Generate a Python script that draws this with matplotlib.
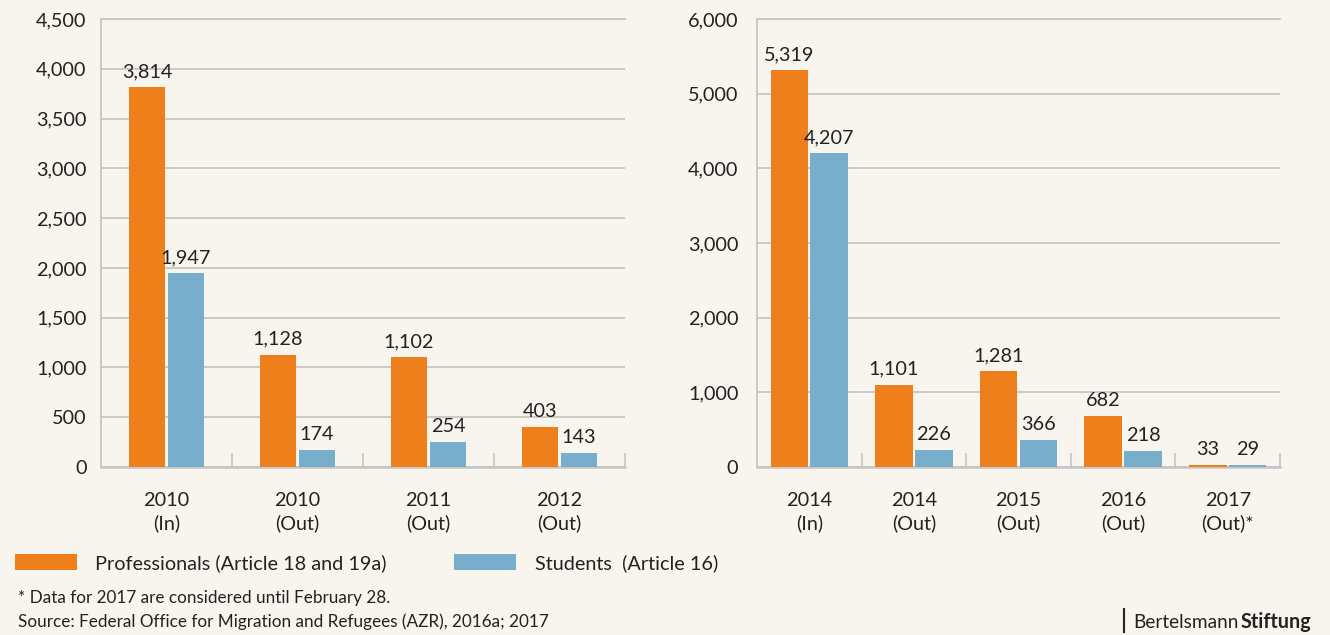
import matplotlib.pyplot as plt
from matplotlib.patches import Patch
from matplotlib.lines import Line2D
import numpy as np

plt.rcParams['font.family'] = ['Lato', 'DejaVu Sans']

# data
left_groups = ['2010\n(In)', '2010\n(Out)', '2011\n(Out)', '2012\n(Out)']
left_prof = [3814, 1128, 1102, 403]
left_stud = [1947, 174, 254, 143]

right_groups = ['2014\n(In)', '2014\n(Out)', '2015\n(Out)', '2016\n(Out)', '2017\n(Out)*']
right_prof = [5319, 1101, 1281, 682, 33]
right_stud = [4207, 226, 366, 218, 29]

legend_labels = ['Professionals (Article 18 and 19a)', 'Students  (Article 16)']
footnote = '* Data for 2017 are considered until February 28.'
source = 'Source: Federal Office for Migration and Refugees (AZR), 2016a; 2017'

bg = '#F8F5EE'
orange = '#EE7F1B'
blue = '#78AECB'
grid_c = '#C6C6C6'
txt = '#222222'
fs = 14.3

fig = plt.figure(figsize=(13.3, 6.35), dpi=100, facecolor=bg)


def draw_panel(ax, groups, prof, stud, ymax, ystep, width, offset, ypad):
    ax.set_facecolor(bg)
    x = np.arange(len(groups))
    b1 = ax.bar(x - offset, prof, width, color=orange, zorder=3)
    b2 = ax.bar(x + offset, stud, width, color=blue, zorder=3)
    for bars in (b1, b2):
        ax.bar_label(bars, labels=[f'{v:,}' for v in bars.datavalues],
                     padding=5, fontsize=fs, color=txt)
    ax.set_xlim(-0.5, len(groups) - 0.5)
    ax.set_ylim(0, ymax)
    ax.set_yticks(np.arange(0, ymax + 1, ystep))
    ax.set_yticklabels([f'{int(v):,}' for v in np.arange(0, ymax + 1, ystep)])
    ax.set_xticks(x)
    ax.set_xticklabels(groups, linespacing=1.36)
    ax.set_xticks(np.arange(0.5, len(groups), 1.0), minor=True)
    ax.tick_params(axis='x', which='major', length=0, pad=18, labelsize=fs, labelcolor=txt)
    ax.tick_params(axis='x', which='minor', direction='in', length=10, width=1.2, color=grid_c)
    ax.tick_params(axis='y', length=0, pad=ypad, labelsize=fs, labelcolor=txt)
    ax.yaxis.grid(True, color=grid_c, lw=1.3, zorder=0)
    ax.set_axisbelow(True)
    ax.spines['right'].set_visible(False)
    for s in ('left', 'top', 'bottom'):
        ax.spines[s].set_color(grid_c)
        ax.spines[s].set_linewidth(1.3)
    ax.spines['bottom'].set_linewidth(1.8)


ax1 = fig.add_axes([101 / 1330, 1 - 467 / 635, 524 / 1330, 448 / 635])
draw_panel(ax1, left_groups, left_prof, left_stud, 4500, 500, 0.275, 0.149, 10.5)

ax2 = fig.add_axes([757 / 1330, 1 - 467 / 635, 523 / 1330, 448 / 635])
draw_panel(ax2, right_groups, right_prof, right_stud, 6000, 1000, 0.36, 0.19, 13.5)

handles = [Patch(facecolor=orange), Patch(facecolor=blue)]
fig.legend(handles, legend_labels, loc='center left', bbox_to_anchor=(15 / 1330, 1 - 563 / 635),
           ncol=2, frameon=False, fontsize=fs, handlelength=3.1, handleheight=0.85,
           handletextpad=0.95, columnspacing=3.4, borderpad=0, borderaxespad=0,
           labelcolor=txt)

fig.text(18 / 1330, 1 - 598 / 635, footnote, fontsize=12.3, color=txt, va='center')
fig.text(18 / 1330, 1 - 622 / 635, source, fontsize=12.3, color=txt, va='center')

fig.add_artist(Line2D([1124 / 1330, 1124 / 1330], [1 - 632 / 635, 1 - 609 / 635],
                      color=txt, lw=1.5))
fig.text(1239 / 1330, 1 - 622 / 635, 'Bertelsmann', fontsize=13.7, color=txt, va='center',
         ha='right')
fig.text(1241 / 1330, 1 - 622 / 635, 'Stiftung', fontsize=14.2, color=txt, va='center',
         ha='left', fontweight='bold')

fig.savefig('out.png', dpi=100, facecolor=bg)
